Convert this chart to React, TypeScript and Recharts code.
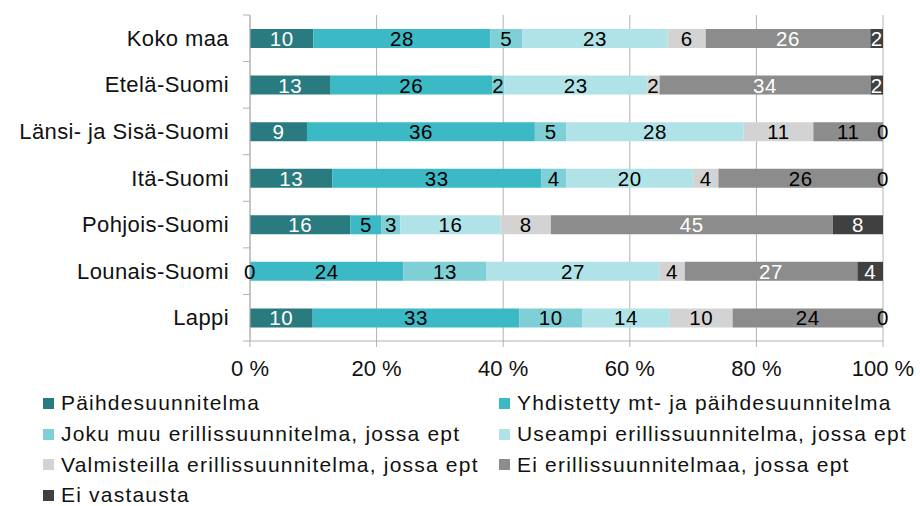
import { Bar, BarChart, CartesianGrid, LabelList, XAxis, YAxis } from "recharts";

// regions, top to bottom
const regions = [
  "Koko maa",
  "Etelä-Suomi",
  "Länsi- ja Sisä-Suomi",
  "Itä-Suomi",
  "Pohjois-Suomi",
  "Lounais-Suomi",
  "Lappi",
];

// shares in %, as labelled on the bars
const paihde = [10, 13, 9, 13, 16, 0, 10];
const yhdistetty = [28, 26, 36, 33, 5, 24, 33];
const jokuMuu = [5, 2, 5, 4, 3, 13, 10];
const useampi = [23, 23, 28, 20, 16, 27, 14];
const valmisteilla = [6, 2, 11, 4, 8, 4, 10];
const eiErillis = [26, 34, 11, 26, 45, 27, 24];
const eiVastausta = [2, 2, 0, 0, 8, 4, 0];

const shareTicks = [0, 0.2, 0.4, 0.6, 0.8, 1];

const FONT = '"Liberation Sans", Arial, Helvetica, sans-serif';
const GRID = "#b2b2b2";
const TEXT = "#111";
const TICK_LEN = 7;
const TICK_GAP = 14;

// which rows of the grey "Ei erillis..." segment carry a white label
const eiErillisWhiteRows = [true, true, false, false, true, true, false];

type Series = {
  key: string;
  name: string;
  values: number[];
  color: string;
  whiteLabel: (row: number, value: number) => boolean;
};

const series: Series[] = [
  { key: "paihde", name: "Päihdesuunnitelma", values: paihde, color: "#2a7b80", whiteLabel: (_, v) => v > 0 },
  { key: "yhdistetty", name: "Yhdistetty mt- ja päihdesuunnitelma", values: yhdistetty, color: "#3bb9c4", whiteLabel: () => false },
  { key: "jokuMuu", name: "Joku muu erillissuunnitelma, jossa ept", values: jokuMuu, color: "#7fd0d6", whiteLabel: () => false },
  { key: "useampi", name: "Useampi erillissuunnitelma, jossa ept", values: useampi, color: "#b0e3e7", whiteLabel: () => false },
  { key: "valmisteilla", name: "Valmisteilla erillissuunnitelma, jossa ept", values: valmisteilla, color: "#d3d3d3", whiteLabel: () => false },
  { key: "eiErillis", name: "Ei erillissuunnitelmaa, jossa ept", values: eiErillis, color: "#8c8c8c", whiteLabel: (r) => eiErillisWhiteRows[r] },
  { key: "eiVastausta", name: "Ei vastausta", values: eiVastausta, color: "#404040", whiteLabel: (_, v) => v > 0 },
];

const data = regions.map((region, i) => {
  const row: Record<string, string | number> = { region };
  series.forEach((s) => (row[s.key] = s.values[i]));
  return row;
});

function RegionTick(props: any) {
  const { x, y, payload, index } = props;
  const half = payload?.offset ?? 0;
  const axisX = x + TICK_GAP + TICK_LEN;
  return (
    <g>
      {index === 0 && (
        <line x1={axisX - TICK_LEN} x2={axisX} y1={y - half} y2={y - half} stroke={GRID} />
      )}
      <line x1={axisX - TICK_LEN} x2={axisX} y1={y + half} y2={y + half} stroke={GRID} />
      <text
        x={x}
        y={y}
        textAnchor="end"
        dominantBaseline="central"
        fontFamily={FONT}
        fontSize={22}
        letterSpacing={0.4}
        fill={TEXT}
      >
        {payload.value}
      </text>
    </g>
  );
}

function segmentLabel(s: Series) {
  return (props: any) => {
    const { x, y, width, height, value, index } = props;
    const white = s.whiteLabel(index, Number(value));
    return (
      <text
        x={Number(x) + Number(width) / 2}
        y={Number(y) + Number(height) / 2}
        textAnchor="middle"
        dominantBaseline="central"
        fontFamily={FONT}
        fontSize={20.5}
        letterSpacing={0.6}
        fill={white ? "#fff" : "#000"}
      >
        {value}
      </text>
    );
  };
}

function LegendBlock() {
  return (
    <div
      style={{
        position: "absolute",
        left: 43,
        top: 388,
        display: "grid",
        gridTemplateColumns: "456px auto",
        gridAutoRows: "30.7px",
        fontFamily: FONT,
        fontSize: 21,
        letterSpacing: 1.2,
        color: TEXT,
      }}
    >
      {series.map((s) => (
        <div key={s.key} style={{ display: "flex", alignItems: "center", whiteSpace: "nowrap" }}>
          <span style={{ width: 11, height: 11, background: s.color, marginRight: 7, flex: "none" }} />
          {s.name}
        </div>
      ))}
    </div>
  );
}

export default function App() {
  return (
    <div style={{ position: "absolute", left: 0, top: 0, width: 920, height: 506, background: "#fff" }}>
      <BarChart
        width={920}
        height={390}
        data={data}
        layout="vertical"
        stackOffset="expand"
        barSize={19}
        margin={{ top: 15, right: 37, bottom: 19, left: 0 }}
      >
        <CartesianGrid horizontal={false} stroke={GRID} />
        <XAxis
          type="number"
          domain={[0, 1]}
          ticks={shareTicks}
          interval={0}
          tickFormatter={(v: number) => `${Math.round(v * 100)} %`}
          tick={{ fontSize: 22, fill: TEXT, fontFamily: FONT }}
          axisLine={{ stroke: GRID }}
          tickLine={{ stroke: GRID }}
          tickSize={6}
          tickMargin={13}
          height={30}
        />
        <YAxis
          type="category"
          dataKey="region"
          width={250}
          axisLine={{ stroke: GRID }}
          tickLine={false}
          tickSize={TICK_LEN}
          tickMargin={TICK_GAP}
          interval={0}
          tick={<RegionTick />}
        />
        {series.map((s) => (
          <Bar
            key={s.key}
            dataKey={s.key}
            name={s.name}
            stackId="all"
            fill={s.color}
            minPointSize={0.01}
            isAnimationActive={false}
          >
            <LabelList dataKey={s.key} content={segmentLabel(s)} />
          </Bar>
        ))}
      </BarChart>
      <LegendBlock />
    </div>
  );
}
